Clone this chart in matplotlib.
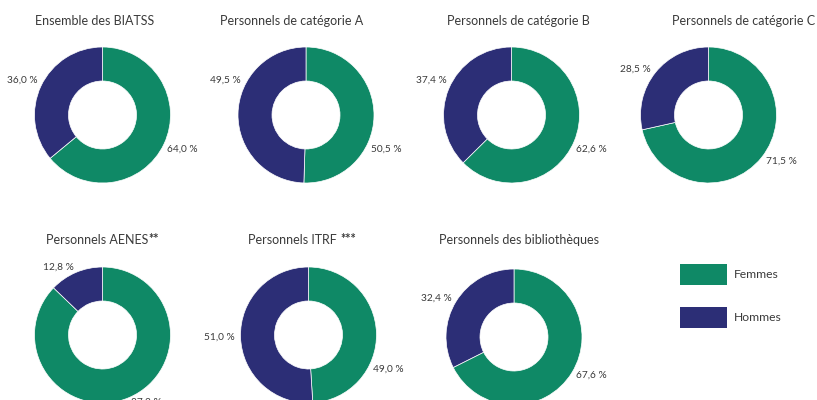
import matplotlib
matplotlib.use("Agg")
import matplotlib.pyplot as plt
from matplotlib.patches import Rectangle
import numpy as np

plt.rcParams['font.family'] = ['Lato', 'DejaVu Sans']

# ---- data ----
titles = ["Ensemble des BIATSS", "Personnels de catégorie A", "Personnels de catégorie B",
          "Personnels de catégorie C", "Personnels AENES**", "Personnels ITRF ***",
          "Personnels des bibliothèques"]
femmes = [64.0, 50.5, 62.6, 71.5, 87.2, 49.0, 67.6]
hommes = [36.0, 49.5, 37.4, 28.5, 12.8, 51.0, 32.4]
legend_labels = ["Femmes", "Hommes"]

# ---- style / layout ----
GREEN = "#0f8966"
NAVY = "#2c2e76"
TXT = "#3a3a3a"
W, H = 817, 400
R = 68  # outer radius in px
centers = [(102.5, 115), (306, 115), (511.5, 115), (708.5, 115),
           (102.5, 335), (308.5, 335), (514, 337)]
title_pos = [(94.5, 21), (292, 21), (518, 21), (744, 21),
             (102, 240), (302, 240), (519, 240)]

fig = plt.figure(figsize=(W / 100, H / 100), dpi=100)
fig.patch.set_facecolor("white")
renderer = fig.canvas.get_renderer()

S = 200
lim = (S / 2) / R


def fmt(v):
    return f"{v:.1f}".replace(".", ",") + " %"


for i, (f, h) in enumerate(zip(femmes, hommes)):
    cx, cy = centers[i]
    ax = fig.add_axes([(cx - S / 2) / W, (H - cy - S / 2) / H, S / W, S / H])
    wedges, _ = ax.pie([f, h], colors=[GREEN, NAVY], startangle=90, counterclock=False,
                       radius=1.0, wedgeprops=dict(width=0.5, edgecolor="white", linewidth=0.5))
    ax.set_xlim(-lim, lim)
    ax.set_ylim(-lim, lim)
    ax.set_aspect("equal")
    ax.axis("off")
    for k, w in enumerate(wedges):
        mid = (w.theta1 + w.theta2) / 2.0
        mid = ((mid + 180) % 360) - 180
        if k == 0 and mid > -28:
            mid = -28
        if k == 1 and 152 <= mid <= 180:
            mid = 152
        a = np.deg2rad(mid)
        r = 1.08
        x, y = r * np.cos(a), r * np.sin(a)
        ax.text(x, y, fmt([f, h][k]), ha="left" if x > 0 else "right", va="center",
                fontsize=7.3, color=TXT, clip_on=False)

# titles (trailing asterisks drawn in bold)
for (tx, ty), t in zip(title_pos, titles):
    base = t.rstrip("*")
    stars = t[len(base):]
    y = 1 - ty / H
    if not stars:
        fig.text(tx / W, y, t, ha="center", va="center", fontsize=9, color=TXT)
        continue
    tb = fig.text(0, y, base, ha="left", va="center", fontsize=9, color=TXT)
    ts = fig.text(0, y, stars, ha="left", va="center", fontsize=9, fontweight="bold", color=TXT)
    wb = tb.get_window_extent(renderer).width
    ws = ts.get_window_extent(renderer).width
    x0 = tx - (wb + ws) / 2
    tb.set_x(x0 / W)
    ts.set_x((x0 + wb) / W)
    ts.set_y(y + 1.5 / H)

# legend
for (y0, y1, col, lab) in [(264, 285, GREEN, legend_labels[0]), (307, 328, NAVY, legend_labels[1])]:
    fig.patches.append(Rectangle((680 / W, 1 - y1 / H), 47 / W, (y1 - y0) / H,
                                 transform=fig.transFigure, facecolor=col, edgecolor="none"))
    fig.text(734 / W, 1 - (y0 + y1) / 2 / H, lab, ha="left", va="center", fontsize=8.7, color=TXT)

fig.savefig("out.png", dpi=100, facecolor="white")
